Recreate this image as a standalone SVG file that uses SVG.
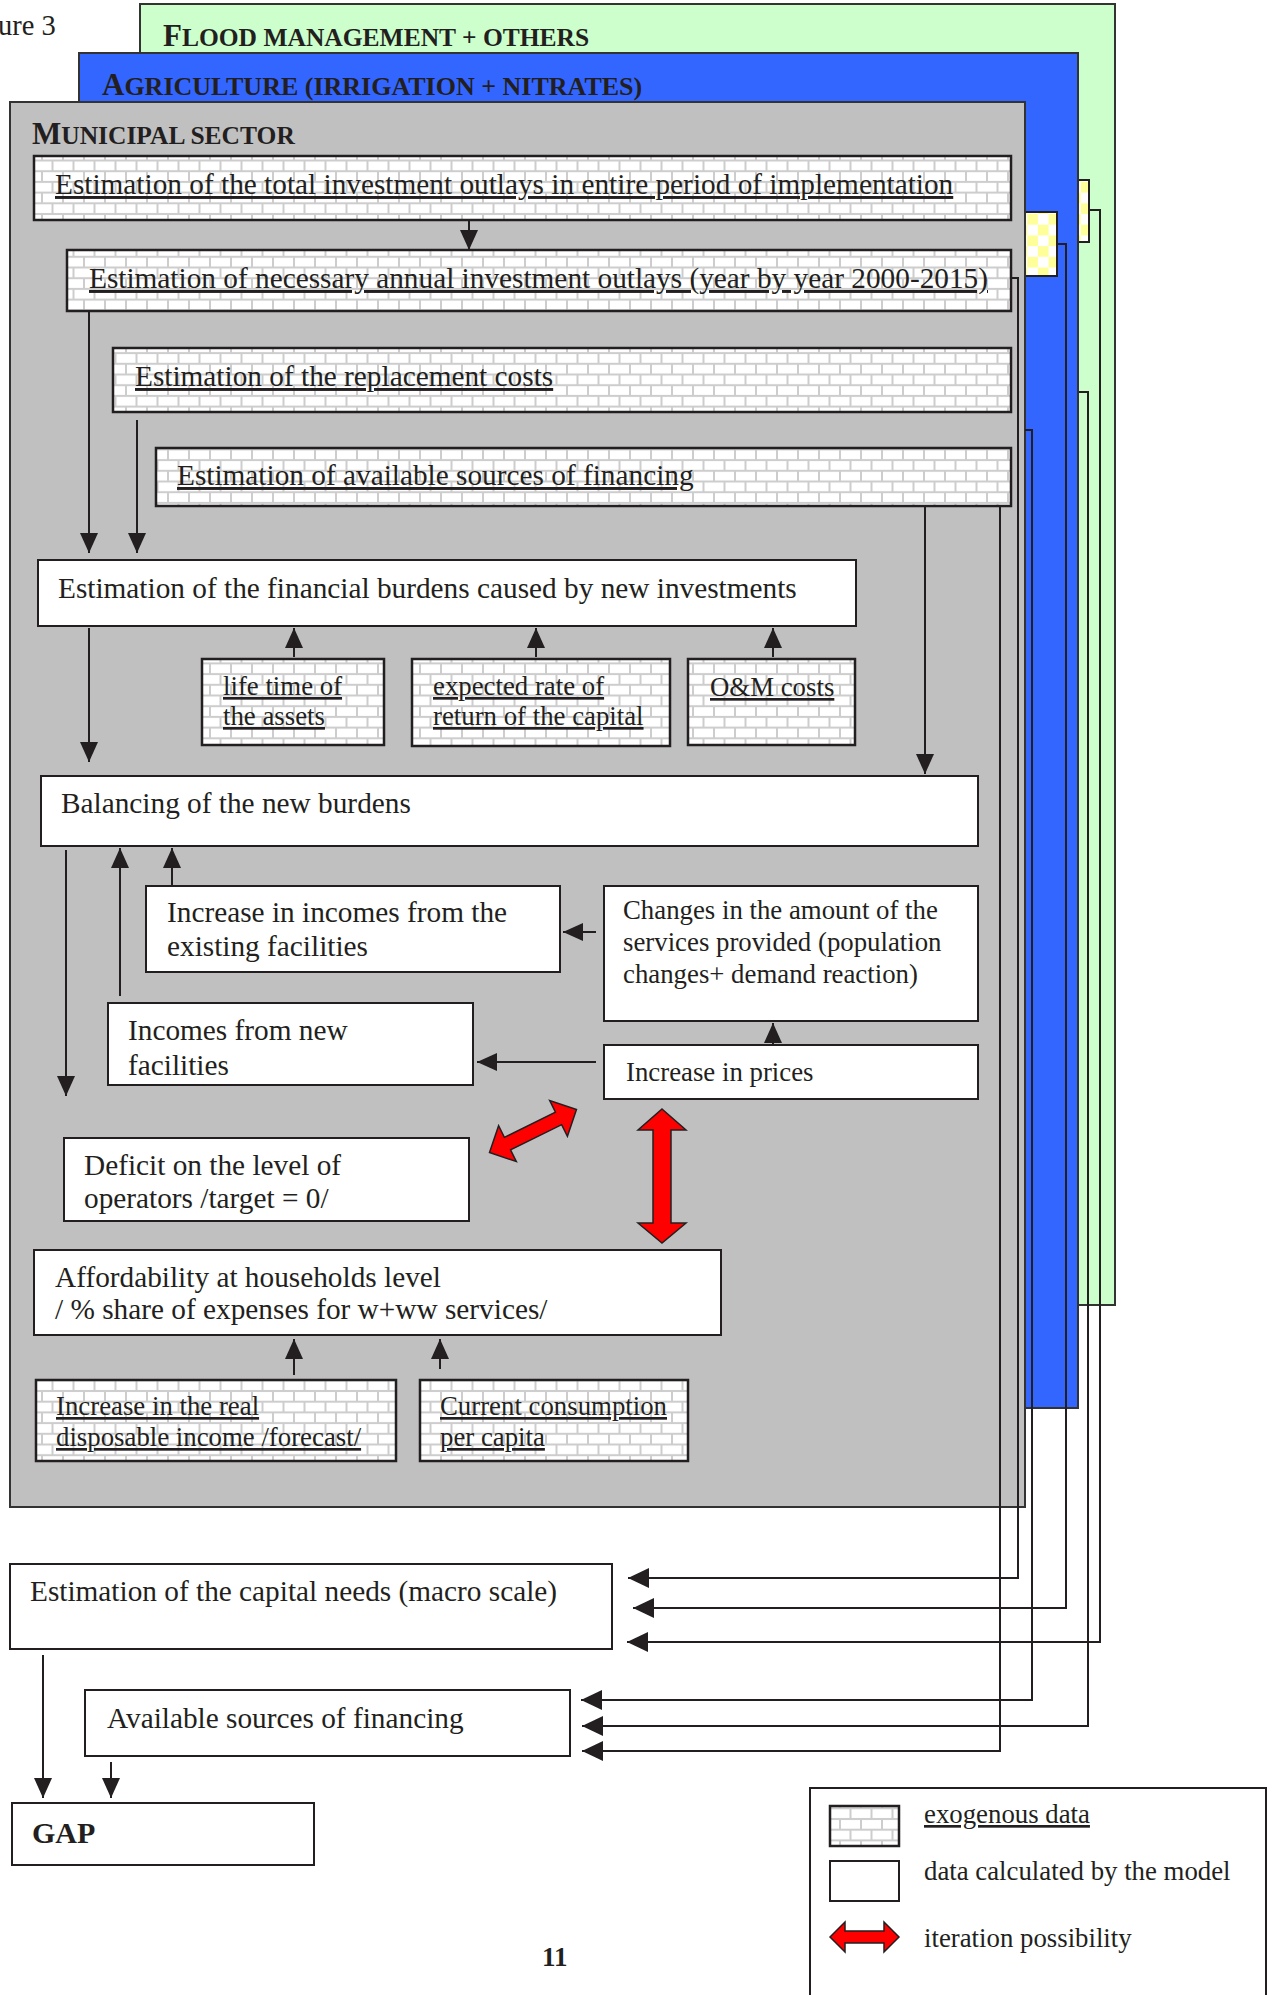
<svg xmlns="http://www.w3.org/2000/svg" width="1273" height="1995" viewBox="0 0 1273 1995">
<style>
.t{font-family:"Liberation Serif","Times New Roman",serif;fill:#231f20}
.f29{font-size:29.3px}
.f26{font-size:26.8px}
.u{text-decoration:underline}
.hd{font-family:"Liberation Serif","Times New Roman",serif;font-weight:bold;fill:#231f20}
.box{fill:#fff;stroke:#231f20;stroke-width:2}
.brick{fill:url(#brick);stroke:#231f20;stroke-width:2.5}
.chk{fill:url(#chk);stroke:#231f20;stroke-width:2}
.con{fill:none;stroke:#231f20;stroke-width:2}
.red{fill:#ff0000;stroke:#231f20;stroke-width:1.5}
.panel{stroke:#333;stroke-width:2}
</style>
<defs>
<pattern id="brick" width="21" height="21.4" patternUnits="userSpaceOnUse">
<rect width="21" height="21.4" fill="#cdcdcd"/>
<rect x="1" y="1" width="19" height="8.7" fill="#fff"/>
<rect x="-9.5" y="11.7" width="19" height="8.7" fill="#fff"/>
<rect x="11.5" y="11.7" width="19" height="8.7" fill="#fff"/>
</pattern>
<pattern id="chk" width="21.4" height="21.4" patternUnits="userSpaceOnUse">
<rect width="21.4" height="21.4" fill="#fff"/>
<rect width="10.7" height="10.7" fill="#ffff99"/>
<rect x="10.7" y="10.7" width="10.7" height="10.7" fill="#ffff99"/>
</pattern>
<marker id="ah" markerUnits="userSpaceOnUse" markerWidth="22" markerHeight="20" refX="20" refY="9" orient="auto" viewBox="0 0 22 20">
<path d="M0,0 L20,9 L0,18 z" fill="#231f20"/>
</marker>
<marker id="ah2" markerUnits="userSpaceOnUse" markerWidth="22" markerHeight="22" refX="21" refY="10" orient="auto" viewBox="0 0 22 22">
<path d="M0,0 L21,10 L0,20 z" fill="#231f20"/>
</marker>
</defs>
<rect width="1273" height="1995" fill="#fff"/>
<text class="t" x="-2" y="35" font-size="28.5">ure 3</text>

<g id="panel-flood">
<rect class="panel" x="140" y="4" width="975" height="1301" fill="#ccffcc"/>
<text class="hd" x="163" y="46"><tspan font-size="31">F</tspan><tspan font-size="25.5">LOOD MANAGEMENT + OTHERS</tspan></text>
<rect class="chk" x="1060" y="180" width="29" height="62"/>
</g>
<g id="panel-agriculture">
<rect class="panel" x="79" y="53" width="999" height="1355" fill="#3366ff"/>
<text class="hd" x="102" y="95"><tspan font-size="31">A</tspan><tspan font-size="26">GRICULTURE (IRRIGATION + NITRATES)</tspan></text>
<rect class="chk" x="1000" y="212" width="57" height="64"/>
</g>
<g id="panel-municipal">
<rect class="panel" x="10" y="102" width="1015" height="1405" fill="#c0c0c0"/>
<text class="hd" x="32" y="144"><tspan font-size="31">M</tspan><tspan font-size="25.5">UNICIPAL SECTOR</tspan></text>
</g>

<g id="n-total">
<rect class="brick" x="34" y="156" width="977" height="64"/>
<text class="t f29 u" x="55" y="194">Estimation of the total investment outlays in entire period of implementation</text>
</g>
<g id="n-annual">
<rect class="brick" x="67" y="250" width="944" height="61"/>
<text class="t f29 u" x="89" y="288">Estimation of necessary annual investment outlays (year by year 2000-2015)</text>
</g>
<g id="n-replacement">
<rect class="brick" x="113" y="348" width="898" height="64"/>
<text class="t f29 u" x="135" y="386">Estimation of the replacement costs</text>
</g>
<g id="n-sources">
<rect class="brick" x="156" y="448" width="855" height="58"/>
<text class="t f29 u" x="177" y="485">Estimation of available sources of financing</text>
</g>
<g id="n-burdens">
<rect class="box" x="38" y="560" width="818" height="66"/>
<text class="t f29" x="58" y="598">Estimation of the financial burdens caused by new investments</text>
</g>
<g id="n-lifetime">
<rect class="brick" x="202" y="659" width="182" height="86"/>
<text class="t f26 u" x="223" y="695">life time of</text>
<text class="t f26 u" x="223" y="725">the assets</text>
</g>
<g id="n-rate">
<rect class="brick" x="412" y="659" width="258" height="87"/>
<text class="t f26 u" x="433" y="695">expected rate of</text>
<text class="t f26 u" x="433" y="725">return of the capital</text>
</g>
<g id="n-om">
<rect class="brick" x="688" y="659" width="167" height="86"/>
<text class="t f26 u" x="710" y="696">O&amp;M costs</text>
</g>
<g id="n-balancing">
<rect class="box" x="41" y="776" width="937" height="70"/>
<text class="t f29" x="61" y="813">Balancing of the new burdens</text>
</g>
<g id="n-existing">
<rect class="box" x="146" y="886" width="414" height="86"/>
<text class="t f29" x="167" y="922">Increase in incomes from the</text>
<text class="t f29" x="167" y="956">existing facilities</text>
</g>
<g id="n-changes">
<rect class="box" x="604" y="886" width="374" height="135"/>
<text class="t f26" x="623" y="919">Changes in the amount of the</text>
<text class="t f26" x="623" y="951">services provided (population</text>
<text class="t f26" x="623" y="983">changes+ demand reaction)</text>
</g>
<g id="n-newinc">
<rect class="box" x="108" y="1003" width="365" height="82"/>
<text class="t f29" x="128" y="1040">Incomes from new</text>
<text class="t f29" x="128" y="1075">facilities</text>
</g>
<g id="n-prices">
<rect class="box" x="604" y="1045" width="374" height="54"/>
<text class="t f26" x="626" y="1081">Increase in prices</text>
</g>
<g id="n-deficit">
<rect class="box" x="64" y="1138" width="405" height="83"/>
<text class="t f29" x="84" y="1175">Deficit on the level of</text>
<text class="t f29" x="84" y="1208">operators /target = 0/</text>
</g>
<g id="n-afford">
<rect class="box" x="34" y="1250" width="687" height="85"/>
<text class="t f29" x="55" y="1287">Affordability at households level</text>
<text class="t f29" x="55" y="1319">/ % share of expenses for w+ww services/</text>
</g>
<g id="n-income">
<rect class="brick" x="36" y="1380" width="360" height="81"/>
<text class="t f26 u" x="56" y="1415">Increase in the real</text>
<text class="t f26 u" x="56" y="1446">disposable income /forecast/</text>
</g>
<g id="n-consumption">
<rect class="brick" x="420" y="1380" width="268" height="81"/>
<text class="t f26 u" x="440" y="1415">Current consumption</text>
<text class="t f26 u" x="440" y="1446">per capita</text>
</g>
<g id="n-capital">
<rect class="box" x="10" y="1564" width="602" height="85"/>
<text class="t f29" x="30" y="1601">Estimation of the capital needs (macro scale)</text>
</g>
<g id="n-available">
<rect class="box" x="85" y="1690" width="485" height="66"/>
<text class="t f29" x="107" y="1728">Available sources of financing</text>
</g>
<g id="n-gap">
<rect class="box" x="12" y="1803" width="302" height="62"/>
<text class="hd" x="32" y="1843" font-size="30">GAP</text>
</g>

<g id="connectors">
<path class="con" marker-end="url(#ah)" d="M469,220 V250"/>
<path class="con" marker-end="url(#ah)" d="M89,312 V553"/>
<path class="con" marker-end="url(#ah)" d="M137,420 V553"/>
<path class="con" marker-end="url(#ah)" d="M925,506 V774"/>
<path class="con" marker-end="url(#ah)" d="M89,628 V762"/>
<path class="con" marker-end="url(#ah)" d="M294,657 V628"/>
<path class="con" marker-end="url(#ah)" d="M536,657 V628"/>
<path class="con" marker-end="url(#ah)" d="M773,657 V628"/>
<path class="con" marker-end="url(#ah)" d="M66,850 V1096"/>
<path class="con" marker-end="url(#ah)" d="M120,996 V848"/>
<path class="con" marker-end="url(#ah)" d="M172,886 V848"/>
<path class="con" marker-end="url(#ah)" d="M596,932 H563"/>
<path class="con" marker-end="url(#ah)" d="M596,1062 H477"/>
<path class="con" marker-end="url(#ah)" d="M773,1045 V1023"/>
<path class="con" marker-end="url(#ah)" d="M294,1375 V1339"/>
<path class="con" marker-end="url(#ah)" d="M440,1369 V1339"/>
<path class="con" marker-end="url(#ah2)" d="M1011,278 H1018 V1578 H628"/>
<path class="con" marker-end="url(#ah2)" d="M1057,244 H1066 V1608 H633"/>
<path class="con" marker-end="url(#ah2)" d="M1089,210 H1100 V1642 H627"/>
<path class="con" marker-end="url(#ah2)" d="M1025,430 H1032 V1700 H581"/>
<path class="con" marker-end="url(#ah2)" d="M1079,392 H1088 V1726 H582"/>
<path class="con" marker-end="url(#ah2)" d="M1000,506 V1751 H582"/>
<path class="con" marker-end="url(#ah)" d="M43,1655 V1798"/>
<path class="con" marker-end="url(#ah)" d="M111,1762 V1798"/>
<polygon class="red" transform="translate(533,1131) rotate(-26.3)" points="-48.5,0 -28.5,-20 -28.5,-7 28.5,-7 28.5,-20 48.5,0 28.5,20 28.5,7 -28.5,7 -28.5,20"/>
<polygon class="red" points="662,1109 686,1130 671,1130 671,1223 686,1223 662,1243 638,1223 653,1223 653,1130 638,1130"/>
</g>

<text class="hd" x="542" y="1966" font-size="27">11</text>

<g id="legend">
<rect class="box" x="810" y="1788" width="456" height="230"/>
<rect class="brick" x="830" y="1806" width="69" height="40"/>
<text class="t f26 u" x="924" y="1823">exogenous data</text>
<rect class="box" x="830" y="1861" width="69" height="40"/>
<text class="t f26" x="924" y="1880">data calculated by the model</text>
<polygon class="red" points="830,1937 845,1922 845,1931 884,1931 884,1922 899,1937 884,1952 884,1943 845,1943 845,1952"/>
<text class="t f26" x="924" y="1947">iteration possibility</text>
</g>
</svg>
